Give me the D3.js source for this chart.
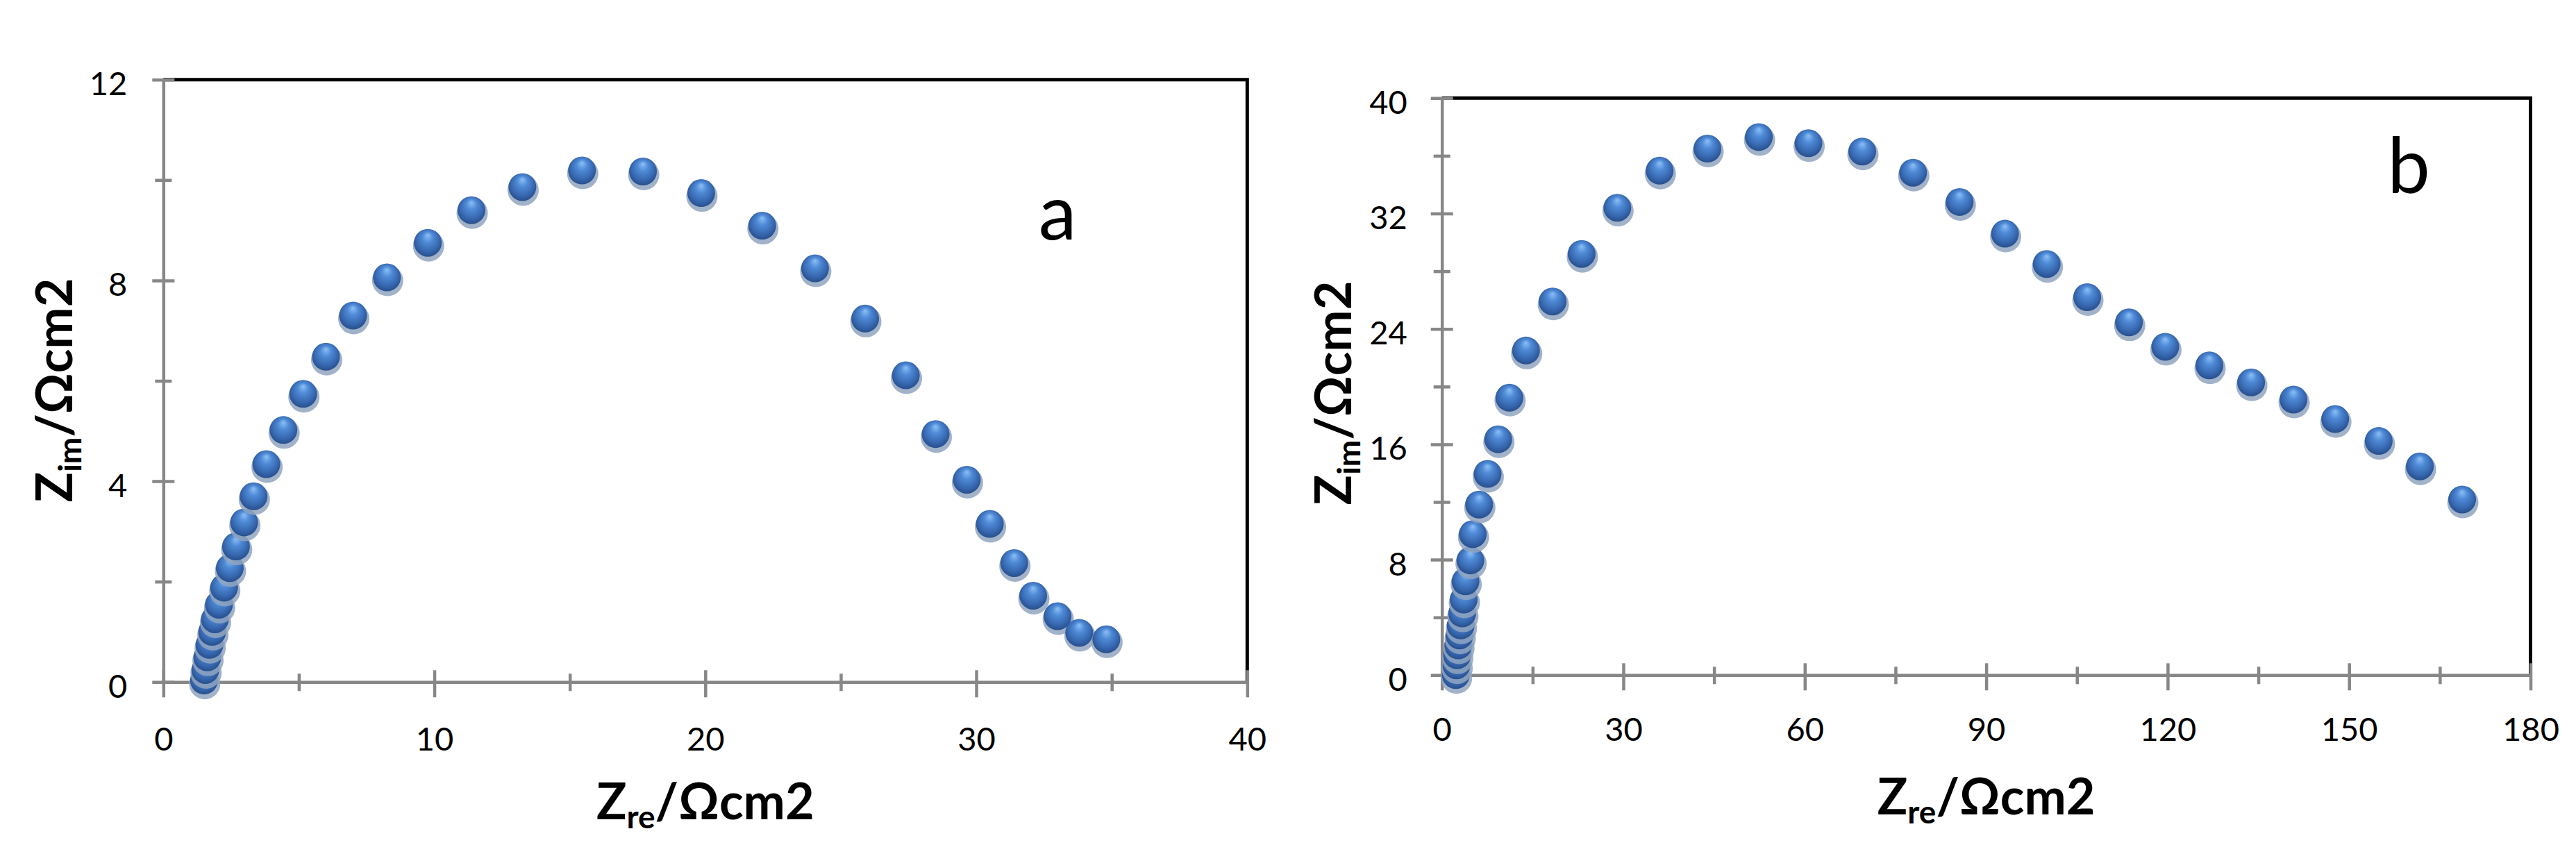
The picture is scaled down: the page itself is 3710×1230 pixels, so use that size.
<!DOCTYPE html>
<html>
<head>
<meta charset="utf-8">
<script src="https://cdn.jsdelivr.net/npm/d3@7"></script>
<style>
  html, body { margin: 0; padding: 0; background: #ffffff; }
  svg { display: block; }
</style>
</head>
<body>
<svg id="chart" width="3710" height="1230"></svg>
<script>
// ---------- data (Nyquist plots) ----------
const aZre = [1.50, 1.55, 1.62, 1.70, 1.80, 1.90, 2.05, 2.24, 2.45, 2.68, 2.98, 3.33, 3.80, 4.43, 5.16, 6.00, 7.00, 8.25, 9.76, 11.37, 13.25, 15.45, 17.70, 19.85, 22.10, 24.05, 25.90, 27.40, 28.50, 29.65, 30.50, 31.40, 32.10, 33.00, 33.80, 34.80];
const aZim = [0.03, 0.24, 0.49, 0.74, 1.00, 1.25, 1.54, 1.88, 2.27, 2.70, 3.18, 3.70, 4.34, 5.02, 5.74, 6.48, 7.30, 8.06, 8.75, 9.40, 9.86, 10.19, 10.17, 9.74, 9.09, 8.24, 7.24, 6.11, 4.94, 4.03, 3.15, 2.37, 1.72, 1.31, 0.98, 0.85];

const bZre = [2.3, 2.4, 2.5, 2.7, 2.9, 3.1, 3.35, 3.6, 3.9, 4.7, 5.1, 6.15, 7.55, 9.3, 11.15, 13.9, 18.3, 23.1, 29.0, 36.0, 43.9, 52.4, 60.6, 69.5, 77.9, 85.6, 93.1, 100.0, 106.7, 113.6, 119.6, 126.9, 133.8, 140.8, 147.7, 154.9, 161.7, 168.7];
const bZim = [0.0, 0.68, 1.37, 2.06, 2.75, 3.44, 4.27, 5.24, 6.5, 7.95, 9.77, 11.82, 13.95, 16.35, 19.23, 22.5, 25.9, 29.2, 32.4, 34.97, 36.5, 37.3, 36.87, 36.3, 34.83, 32.8, 30.6, 28.5, 26.2, 24.45, 22.76, 21.47, 20.29, 19.1, 17.75, 16.23, 14.47, 12.17];

const aXMajor = [0, 10, 20, 30, 40];
const aXMinor = [5, 15, 25, 35];
const aYMajor = [0, 4, 8, 12];
const aYMinor = [2, 6, 10];

const bXMajor = [0, 30, 60, 90, 120, 150, 180];
const bXMinor = [15, 45, 75, 105, 135, 165];
const bYMajor = [0, 8, 16, 24, 32, 40];
const bYMinor = [4, 12, 20, 28, 36];

const panelLetters = ["a", "b"];

// ---------- drawing ----------
const svg = d3.select("#chart");
svg.append("rect").attr("width", 3710).attr("height", 1230).attr("fill", "#ffffff");

const defs = svg.append("defs");
const grad = defs.append("radialGradient").attr("id", "sphere")
  .attr("cx", "50%").attr("cy", "45%").attr("r", "55%")
  .attr("fx", "50%").attr("fy", "22%");
grad.append("stop").attr("offset", "0%").attr("stop-color", "#8cc0f7");
grad.append("stop").attr("offset", "35%").attr("stop-color", "#4f8ad6");
grad.append("stop").attr("offset", "75%").attr("stop-color", "#3768b0");
grad.append("stop").attr("offset", "100%").attr("stop-color", "#284f8c");

const AXIS_GREY = "#878787";
const FONT = "Lato";

function panel(cfg) {
  const x = d3.scaleLinear().domain(cfg.xDomain).range([cfg.left, cfg.right]);
  const y = d3.scaleLinear().domain(cfg.yDomain).range([cfg.bottom, cfg.top]);
  const g = svg.append("g");

  // black frame (top & right)
  g.append("path")
    .attr("d", `M${cfg.left},${cfg.top} H${cfg.right} V${cfg.bottom}`)
    .attr("fill", "none").attr("stroke", "#000").attr("stroke-width", 5);

  // x axis
  const xMinorG = g.append("g").attr("transform", `translate(0,${cfg.bottom})`)
    .call(d3.axisBottom(x).tickValues(cfg.xMinor).tickFormat("").tickSizeOuter(0));
  xMinorG.select(".domain").remove();
  xMinorG.selectAll(".tick line").attr("y1", -12).attr("y2", 13);

  const xMajorG = g.append("g").attr("transform", `translate(0,${cfg.bottom})`)
    .call(d3.axisBottom(x).tickValues(cfg.xMajor).tickSizeOuter(0).tickPadding(0));
  xMajorG.selectAll(".tick line").attr("y1", -17).attr("y2", 22);
  xMajorG.selectAll(".tick text").attr("y", cfg.xLabelOffset).attr("dy", 0);

  // y axis
  const yMinorG = g.append("g").attr("transform", `translate(${cfg.left},0)`)
    .call(d3.axisLeft(y).tickValues(cfg.yMinor).tickFormat("").tickSizeOuter(0));
  yMinorG.select(".domain").remove();
  yMinorG.selectAll(".tick line").attr("x1", -12).attr("x2", 12);

  const yMajorG = g.append("g").attr("transform", `translate(${cfg.left},0)`)
    .call(d3.axisLeft(y).tickValues(cfg.yMajor).tickSizeOuter(0).tickPadding(0));
  yMajorG.selectAll(".tick line").attr("x1", -16).attr("x2", 16);
  yMajorG.selectAll(".tick text").attr("x", -cfg.yLabelGap).attr("dy", 0).attr("y", 22);

  [xMinorG, xMajorG, yMinorG, yMajorG].forEach(ax => {
    ax.attr("font-family", FONT).attr("font-size", 47);
    ax.selectAll(".domain").attr("stroke", AXIS_GREY).attr("stroke-width", 4.5);
    ax.selectAll(".tick line").attr("stroke", AXIS_GREY).attr("stroke-width", 4.5);
    ax.selectAll(".tick text").attr("fill", "#000");
  });

  // markers
  const pts = cfg.xs.map((v, i) => ({ re: v, im: cfg.ys[i] }));
  const mk = g.append("g").selectAll("g").data(pts).join("g")
    .attr("transform", d => `translate(${x(d.re)},${y(d.im)})`);
  mk.append("circle").attr("cx", 1).attr("cy", 4.5).attr("r", 22.5)
    .attr("fill", "#91a5c0").attr("fill-opacity", 0.85);
  mk.append("circle").attr("r", 20).attr("fill", "url(#sphere)");

  // axis titles
  const xt = g.append("text")
    .attr("x", (cfg.left + cfg.right) / 2).attr("y", cfg.xTitleY)
    .attr("text-anchor", "middle").attr("font-family", FONT)
    .attr("font-weight", "bold").attr("font-size", 72).attr("fill", "#000");
  xt.append("tspan").text("Z");
  xt.append("tspan").attr("font-size", 46).attr("dy", 13).text("re");
  xt.append("tspan").attr("dy", -13).text("/Ωcm2");

  const yt = g.append("text")
    .attr("transform", `translate(${cfg.yTitleX},${cfg.yTitleY}) rotate(-90)`)
    .attr("text-anchor", "middle").attr("font-family", FONT)
    .attr("font-weight", "bold").attr("font-size", 72).attr("fill", "#000");
  yt.append("tspan").text("Z");
  yt.append("tspan").attr("font-size", 46).attr("dy", 13).text("im");
  yt.append("tspan").attr("dy", -13).text("/Ωcm2");

  // panel letter
  g.append("text").attr("x", cfg.letterX).attr("y", cfg.letterY)
    .attr("text-anchor", "middle").attr("font-family", FONT)
    .attr("font-size", 110).attr("fill", "#000").text(cfg.letter);
}

panel({
  xDomain: [0, 40], yDomain: [0, 12],
  left: 235.3, right: 1796.3, top: 114.7, bottom: 982.3,
  xMajor: aXMajor, xMinor: aXMinor, yMajor: aYMajor, yMinor: aYMinor,
  xLabelOffset: 99, yLabelGap: 52,
  xs: aZre, ys: aZim,
  xTitleY: 1180, yTitleX: 104, yTitleY: 562,
  letter: panelLetters[0], letterX: 1523, letterY: 345
});

panel({
  xDomain: [0, 180], yDomain: [0, 40],
  left: 2076.7, right: 3644.5, top: 141.3, bottom: 972.3,
  xMajor: bXMajor, xMinor: bXMinor, yMajor: bYMajor, yMinor: bYMinor,
  xLabelOffset: 95, yLabelGap: 50,
  xs: bZre, ys: bZim,
  xTitleY: 1173, yTitleX: 1946, yTitleY: 566,
  letter: panelLetters[1], letterX: 3469, letterY: 277
});
</script>
</body>
</html>
